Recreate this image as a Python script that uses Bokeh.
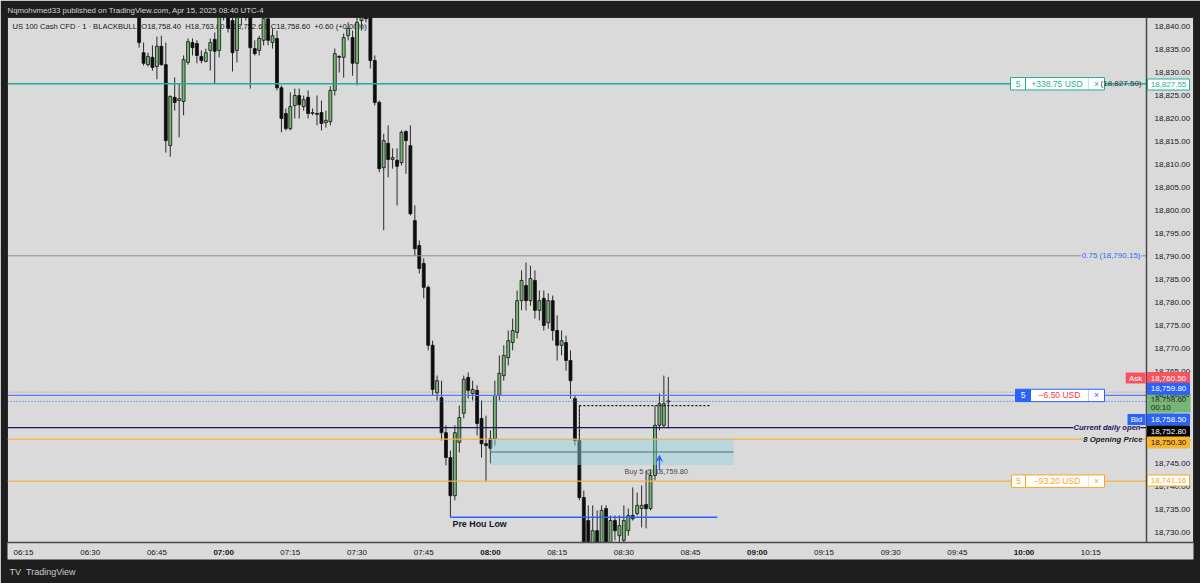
import pandas as pd
from bokeh.plotting import figure
from bokeh.models import (ColumnDataSource, Range1d, Span, Label, FixedTicker, LinearAxis,
                          NumeralTickFormatter, Arrow, VeeHead, Title)
from bokeh.core.properties import value
from bokeh.embed import file_html
from bokeh.resources import INLINE

# ---------------- data ----------------
first_candle = "06:41"
opens = [
    18843.5, 18834.3, 18831.7, 18833.3, 18831.3, 18835.7, 18831.7, 18814.1, 18824.6, 18823.9,
    18823.7, 18832.2, 18836.5, 18836.3, 18833.5, 18832.4, 18834.8, 18837.2, 18834.8, 18842.4,
    18844.6, 18841.3, 18834.8, 18842.6, 18844.6, 18842.4, 18835.2, 18834.8, 18837.0, 18841.7,
    18836.5, 18837.4, 18826.7, 18821.1, 18817.8, 18822.8, 18825.0, 18822.6, 18824.6, 18821.1,
    18821.1, 18821.3, 18819.1, 18819.3, 18826.1, 18833.5, 18833.3, 18838.0, 18837.6, 18832.0,
    18841.3, 18844.6, 18842.4, 18832.6, 18823.5, 18809.3, 18814.6, 18811.1, 18810.9, 18810.4,
    18817.2, 18814.1, 18797.8, 18792.4, 18788.5, 18783.3, 18770.7, 18760.4, 18759.3, 18751.7,
    18746.3, 18738.0, 18749.6, 18755.9, 18763.7, 18760.2, 18760.9, 18754.8, 18749.3, 18750.4,
    18750.4, 18759.8, 18764.1, 18768.0, 18771.3, 18773.5, 18780.4, 18783.7, 18780.4, 18784.8,
    18778.3, 18780.9, 18775.6, 18780.4, 18773.9, 18770.7, 18771.3, 18767.4, 18759.1, 18750.0,
    18737.6, 18732.6, 18726.5, 18730.4, 18726.1, 18735.2, 18727.2, 18732.6, 18729.3, 18728.3,
    18730.4, 18733.7, 18734.1, 18735.2, 18736.1, 18735.2, 18742.4, 18753.3, 18753.3, 18758.4,
]
highs = [
    18844.6, 18836.5, 18834.3, 18835.9, 18837.8, 18838.0, 18836.5, 18825.0, 18828.9, 18827.6,
    18833.7, 18837.4, 18837.4, 18837.0, 18834.8, 18835.2, 18837.4, 18838.7, 18844.6, 18845.6,
    18845.6, 18842.4, 18843.9, 18845.6, 18845.6, 18843.5, 18837.0, 18838.0, 18843.0, 18843.5,
    18839.6, 18839.1, 18827.2, 18822.2, 18825.7, 18826.5, 18826.5, 18825.0, 18826.1, 18822.2,
    18825.0, 18823.9, 18821.7, 18827.0, 18835.2, 18833.7, 18838.5, 18840.9, 18839.1, 18842.4,
    18845.6, 18845.6, 18843.5, 18833.7, 18823.9, 18816.7, 18818.5, 18813.5, 18813.5, 18817.4,
    18817.4, 18818.5, 18801.1, 18793.5, 18789.6, 18783.7, 18771.7, 18764.1, 18763.0, 18753.3,
    18747.8, 18753.3, 18757.6, 18764.1, 18764.8, 18763.0, 18762.0, 18758.7, 18755.4, 18752.2,
    18763.0, 18768.5, 18770.7, 18773.9, 18776.5, 18782.6, 18787.0, 18788.7, 18788.0, 18787.0,
    18782.6, 18782.6, 18782.0, 18781.5, 18777.2, 18773.9, 18772.8, 18769.6, 18759.8, 18757.6,
    18739.1, 18735.9, 18735.9, 18734.8, 18735.9, 18735.9, 18733.7, 18733.7, 18733.7, 18735.9,
    18735.2, 18739.8, 18738.7, 18740.2, 18743.5, 18743.5, 18757.6, 18760.2, 18764.1, 18763.8,
]
lows = [
    18835.4, 18831.5, 18831.3, 18830.4, 18828.5, 18831.5, 18812.6, 18811.7, 18821.7, 18815.9,
    18820.7, 18831.7, 18833.7, 18832.0, 18832.0, 18832.2, 18830.4, 18827.6, 18833.3, 18841.3,
    18838.7, 18830.2, 18832.2, 18840.2, 18841.3, 18826.5, 18833.7, 18833.7, 18835.9, 18835.9,
    18835.2, 18826.1, 18817.0, 18817.4, 18817.4, 18820.0, 18820.0, 18821.7, 18820.0, 18820.7,
    18818.5, 18817.4, 18818.0, 18818.5, 18825.0, 18830.0, 18828.9, 18837.0, 18829.3, 18827.2,
    18839.1, 18840.9, 18830.9, 18822.8, 18808.3, 18795.7, 18807.2, 18809.1, 18801.1, 18809.8,
    18808.0, 18798.9, 18790.2, 18786.3, 18780.9, 18769.6, 18759.8, 18758.7, 18750.0, 18744.6,
    18733.3, 18737.0, 18747.4, 18754.8, 18759.1, 18758.7, 18751.1, 18746.3, 18741.1, 18745.0,
    18748.9, 18758.7, 18763.0, 18766.3, 18769.6, 18772.2, 18778.3, 18778.3, 18779.3, 18776.5,
    18776.1, 18773.9, 18774.3, 18771.7, 18767.4, 18768.5, 18765.2, 18759.1, 18748.9, 18737.0,
    18724.0, 18724.0, 18724.0, 18724.0, 18724.0, 18724.0, 18725.0, 18728.3, 18727.2, 18727.2,
    18729.3, 18732.6, 18733.7, 18731.1, 18730.9, 18734.8, 18741.3, 18752.2, 18752.8, 18752.6,
]
closes = [
    18836.5, 18832.0, 18833.5, 18831.1, 18835.7, 18831.7, 18815.2, 18824.8, 18823.5, 18824.3,
    18832.8, 18836.7, 18835.4, 18833.7, 18832.6, 18834.3, 18836.5, 18834.6, 18843.5, 18845.2,
    18839.6, 18834.3, 18843.0, 18844.6, 18842.4, 18835.4, 18834.1, 18837.4, 18841.7, 18837.0,
    18838.0, 18826.7, 18820.0, 18817.8, 18822.6, 18825.0, 18823.0, 18824.1, 18821.1, 18821.3,
    18820.9, 18818.9, 18819.6, 18826.1, 18834.1, 18833.3, 18837.6, 18839.6, 18832.0, 18840.9,
    18844.6, 18841.7, 18832.6, 18823.5, 18809.1, 18815.2, 18811.1, 18811.5, 18809.6, 18817.0,
    18815.2, 18799.3, 18791.7, 18787.4, 18783.3, 18770.7, 18761.1, 18763.0, 18751.7, 18746.3,
    18738.0, 18751.7, 18755.0, 18763.3, 18760.9, 18761.1, 18753.7, 18749.3, 18748.9, 18748.3,
    18759.8, 18764.6, 18768.5, 18771.7, 18773.9, 18780.4, 18784.8, 18780.4, 18785.2, 18778.3,
    18780.4, 18775.0, 18780.4, 18773.9, 18770.7, 18771.7, 18767.4, 18763.0, 18750.0, 18737.6,
    18727.2, 18726.5, 18730.4, 18725.0, 18734.8, 18727.2, 18732.6, 18730.4, 18731.5, 18732.6,
    18733.7, 18733.0, 18735.9, 18735.9, 18735.2, 18742.4, 18753.3, 18758.0, 18758.0, 18758.6,
]

price_ticks = [18730, 18735, 18740, 18745, 18750, 18755, 18760, 18765, 18770, 18775,
               18780, 18785, 18790, 18795, 18800, 18805, 18810, 18815, 18820, 18825,
               18830, 18835, 18840]
time_labels = ["06:15", "06:30", "06:45", "07:00", "07:15", "07:30", "07:45", "08:00",
               "08:15", "08:30", "08:45", "09:00", "09:15", "09:30", "09:45", "10:00", "10:15"]

header_text = "Nqmohvmed33 published on TradingView.com, Apr 15, 2025 08:40 UTC-4"
NB = "\u00a0"
legend_text = ("US 100 Cash CFD \u00b7 1 \u00b7 BLACKBULL" + NB * 2 + "O18,758.40" + NB * 2 +
               "H18,763.80" + NB * 2 + "L18,752.60" + NB * 2 + "C18,758.60" + NB * 2 +
               "+0.60 (+0.00%)")

tp_price = 18827.55
fib_075 = 18790.15
ask_price = 18760.50
entry_price = 18759.80
last_price = 18758.60
bid_price = 18758.50
daily_open = 18752.80
open_8 = 18750.30
sl_price = 18741.16
pre_hour_low = 18733.3
zone_top, zone_mid, zone_bottom = 18750.3, 18747.5, 18744.7
zone_start, zone_end = "08:00", "08:54:40"
phl_start, phl_end = "07:51", "08:51"
dotted_level, dotted_start, dotted_end = 18757.6, "08:20", "08:49:30"
buy_time = "08:38"

# ---------------- geometry helpers (page pixels -> data) ----------------
PX_MIN = 4.447   # pixels per minute
PX_PT = 4.6      # pixels per index point
X_ORIGIN, Y_ORIGIN = 23.0, 26.0   # page px of 06:15 / 18,840
SCALE_X = 1146                    # page px of the price-scale separator


def tmin(s):
    parts = [int(v) for v in s.split(":")]
    sec = parts[2] if len(parts) > 2 else 0
    return parts[0] * 60 + parts[1] + sec / 60.0 - (6 * 60 + 15)


def tx(px):
    return (px - X_ORIGIN) / PX_MIN


def py(pyy):
    return 18840 - (pyy - Y_ORIGIN) / PX_PT


X0, X1 = tx(7), tx(1193)
Y0, Y1 = py(542), py(17)
XS = tx(SCALE_X)

FONT = "Liberation Sans"
AX_SIZE = "8px"

# ---------------- figure ----------------
p = figure(width=1200, height=583, x_range=Range1d(X0, X1), y_range=Range1d(Y0, Y1),
           output_backend="svg", toolbar_location=None, y_axis_location="right",
           min_border_left=7, min_border_right=7, min_border_top=17, min_border_bottom=41,
           background_fill_color="#dadada", border_fill_color="#1e1e1e",
           outline_line_color="#2a2a2a")
p.grid.visible = False

# header
p.title.text = header_text
p.title.text_font = FONT
p.title.text_font_size = "7.8px"
p.title.text_font_style = "normal"
p.title.text_color = "#d1d4dc"
p.title.align = "left"
p.title.offset = 0
p.title.standoff = 3
try:
    p.title.vertical_align = "middle"
except Exception:
    pass

hour_labels = [t for t in time_labels if t.endswith(":00")]
minor_labels = [t for t in time_labels if not t.endswith(":00")]

xa = p.xaxis[0]
xa.ticker = FixedTicker(ticks=[tmin(t) for t in minor_labels])
xa.major_label_overrides = {tmin(t): t for t in minor_labels}
ya = p.yaxis[0]
ya.ticker = FixedTicker(ticks=price_ticks)
ya.formatter = NumeralTickFormatter(format="0,0.00")
for ax in (xa, ya):
    ax.major_tick_line_color = None
    ax.minor_tick_line_color = None
    ax.major_label_text_font = FONT
    ax.major_label_text_font_size = AX_SIZE
    ax.major_label_text_color = "#131722"
xa.axis_line_color = "#4a4a4a"
xa.axis_line_width = 1.5
xa.major_label_standoff = -1
try:
    xa.background_fill_color = "#dadada"
except Exception:
    pass
ya.axis_line_color = None
ya.major_label_standoff = -45

# bold hour labels on an overlapping second time axis
xh = LinearAxis(ticker=FixedTicker(ticks=[tmin(t) for t in hour_labels]),
                major_label_overrides={tmin(t): t for t in hour_labels},
                major_tick_line_color=None, minor_tick_line_color=None,
                axis_line_color=None, major_label_text_font=FONT,
                major_label_text_font_size=AX_SIZE, major_label_text_font_style="bold",
                major_label_text_color="#131722", major_label_standoff=-18)

footer = Title(text="TV" + NB + NB + "TradingView", text_font=FONT,
               text_font_size="9px", text_font_style="normal", text_color="#c8cbd2",
               align="left", offset=2, standoff=11)
p.below = [xa, xh, footer]

# price-scale separator
p.add_layout(Span(location=XS, dimension="height", line_color="#4a4a4a", line_width=1.5))

# legend text (under candles)
p.text(x=[tx(12)], y=[py(26)], text=[legend_text], text_font=value(FONT),
       text_font_size=value("7.6px"), text_color="#131722", text_baseline="middle",
       text_align="left")

# candles
n = len(opens)
x0 = tmin(first_candle)
xs = [x0 + i for i in range(n)]
up = [c >= o for o, c in zip(opens, closes)]
src = ColumnDataSource(dict(
    x=xs, high=highs, low=lows,
    top=[max(o, c) for o, c in zip(opens, closes)],
    bottom=[min(o, c) for o, c in zip(opens, closes)],
    color=["#74b874" if u else "#0d0d0d" for u in up],
))
p.segment(x0="x", y0="low", x1="x", y1="high", source=src, line_color="#2a2a2a", line_width=1)
p.vbar(x="x", width=0.66, top="top", bottom="bottom", source=src,
       fill_color="color", line_color="#111111", line_width=0.8)


def level(price, color, width=1.0, dash="solid", alpha=1.0):
    p.segment(x0=[X0], y0=[price], x1=[XS], y1=[price], line_color=color,
              line_width=width, line_dash=dash, line_alpha=alpha)


level(tp_price, "#1fae97", 1.3)
level(fib_075, "#8c8c8c")
level(ask_price, "#f7525f", 1, "1 2", 0.85)
level(entry_price, "#4f7dff", 1.3)
level(bid_price, "#2962ff", 1, "1 2")
level(daily_open, "#1d1560", 1.4)
level(open_8, "#f5b041", 1.2)
level(sl_price, "#f5b041", 1.2)

# zone
p.quad(left=[tmin(zone_start)], right=[tmin(zone_end)], top=[zone_top], bottom=[zone_bottom],
       fill_color="#8fd0dc", fill_alpha=0.45, line_color=None)
p.segment(x0=[tmin(zone_start)], y0=[zone_mid], x1=[tmin(zone_end)], y1=[zone_mid],
          line_color="#4f6f70", line_width=1.2)

# previous hour low
p.segment(x0=[tmin(phl_start)], y0=[pre_hour_low], x1=[tmin(phl_end)], y1=[pre_hour_low],
          line_color="#2962ff", line_width=1.5)
p.text(x=[tx(452)], y=[py(523)], text=["Pre Hou Low"], text_font=value(FONT),
       text_font_style="bold", text_font_size=value("8.9px"), text_color="#131722",
       text_baseline="middle", text_align="left")

# dotted black level
p.segment(x0=[tmin(dotted_start)], y0=[dotted_level], x1=[tmin(dotted_end)], y1=[dotted_level],
          line_color="#111111", line_width=1.2, line_dash="2 2")
p.segment(x0=[tmin(dotted_start)], y0=[dotted_level], x1=[tmin(dotted_start)], y1=[py(440)],
          line_color="#111111", line_width=1, line_dash="2 2")

# buy marker
p.add_layout(Arrow(end=VeeHead(size=6, line_color="#2962ff", fill_color="#2962ff", line_width=1),
                   x_start=tmin(buy_time), y_start=py(470), x_end=tmin(buy_time), y_end=py(455),
                   line_color="#2962ff", line_width=1.4))
p.text(x=[tx(624)], y=[py(471)], text=["Buy 5 @ 18,759.80"], text_font=value(FONT),
       text_font_size=value("7.4px"), text_color="#4a4a4a", text_baseline="middle",
       text_align="left")

# right side texts in pane
p.add_layout(Label(x=tx(1141), y=tp_price, text="(18,827.50)", text_align="right",
                   text_baseline="middle", text_font=FONT, text_font_size="8px",
                   text_color="#333333"))
p.add_layout(Label(x=tx(1141), y=fib_075, text="0.75 (18,790.15)", text_align="right",
                   text_baseline="middle", text_font=FONT, text_font_size="8px",
                   text_color="#2f6bf0", background_fill_color="#dadada", padding=1))
p.add_layout(Label(x=tx(1140), y=daily_open, text="Current daily open", text_align="right",
                   text_baseline="middle", text_font=FONT, text_font_size="7.6px",
                   text_font_style="bold italic", text_color="#1d1560",
                   background_fill_color="#dadada", padding=0))
p.add_layout(Label(x=tx(1142), y=open_8, text="8 Opening Price", text_align="right",
                   text_baseline="middle", text_font=FONT, text_font_size="7.8px",
                   text_font_style="bold italic", text_color="#1a1a1a",
                   background_fill_color="#dadada", padding=0))


def order_box(price, color, qty, pnl, pnl_color, qty_fill, left_px, qty_right_px):
    h = 6.2 / PX_PT
    seps = [left_px, qty_right_px, 1088, 1104]
    p.quad(left=[tx(seps[0])], right=[tx(seps[1])], top=[price + h], bottom=[price - h],
           fill_color=qty_fill, line_color=color, line_width=1)
    p.quad(left=[tx(seps[1])], right=[tx(seps[3])], top=[price + h], bottom=[price - h],
           fill_color="#ffffff", line_color=color, line_width=1)
    p.segment(x0=[tx(seps[2])], y0=[price + h], x1=[tx(seps[2])], y1=[price - h],
              line_color=color, line_width=0.6, line_alpha=0.5)
    qty_col = "#ffffff" if qty_fill != "#ffffff" else color
    p.text(x=[tx((seps[0] + seps[1]) / 2), tx((seps[1] + seps[2]) / 2),
              tx((seps[2] + seps[3]) / 2)],
           y=[price] * 3, text=[qty, pnl, "\u00d7"],
           text_color=[qty_col, pnl_color, color],
           text_font=value(FONT), text_font_size=value("8.5px"),
           text_align="center", text_baseline="middle")


order_box(tp_price, "#1fae97", "5", "+338.75 USD", "#1fae97", "#ffffff", 1010, 1025)
order_box(entry_price, "#2962ff", "5", "\u22126.50 USD", "#f23645", "#2962ff", 1015, 1030)
order_box(sl_price, "#f5a623", "5", "\u221293.20 USD", "#f5a623", "#ffffff", 1011, 1025)

# price-scale tags
AXL = tx(1147)

# last-price block (price + countdown) on the scale
p.quad(left=[AXL], right=[tx(1190)], top=[py(393.5)], bottom=[py(412)],
       fill_color="#78b678", line_color=None)


def axis_tag(y_px, text, bg, fg, border=None):
    p.add_layout(Label(x=AXL, y=py(y_px), text=text, text_align="left", text_baseline="middle",
                       text_font=FONT, text_font_size=AX_SIZE, text_color=fg,
                       background_fill_color=bg, border_line_color=border or bg,
                       padding=1))


axis_tag(84, NB + "18,827.55" + NB, "#ffffff", "#1fae97", "#1fae97")
axis_tag(377.5, NB + "18,760.50" + NB, "#f7525f", "#ffffff")
axis_tag(399, NB + "18,758.60" + NB, None, "#1c2a1c", "#78b678")
axis_tag(407, NB + "00:10" + NB, None, "#1c2a1c", "#78b678")
axis_tag(388.2, NB + "18,759.80" + NB, "#2962ff", "#ffffff")
axis_tag(419, NB + "18,758.50" + NB, "#2962ff", "#ffffff")
axis_tag(431, NB + "18,752.80" + NB, "#000000", "#ffffff")
axis_tag(442, NB + "18,750.30" + NB, "#f9b530", "#131722")
axis_tag(480, NB + "18,741.16" + NB, "#ffffff", "#f5a623", "#f5a623")
for ypx, txt in ((377.5, "Ask"), (419, "Bid")):
    p.add_layout(Label(x=tx(1145), y=py(ypx), text=NB + txt + NB, text_align="right",
                       text_baseline="middle", text_font=FONT, text_font_size=AX_SIZE,
                       text_color="#ffffff",
                       background_fill_color="#f7525f" if txt == "Ask" else "#2962ff",
                       padding=1))

html = file_html(p, INLINE)
html = html.replace("<body>", "<body style=\"background-color:#1e1e1e;\">", 1)
open("out.html", "w").write(html)
